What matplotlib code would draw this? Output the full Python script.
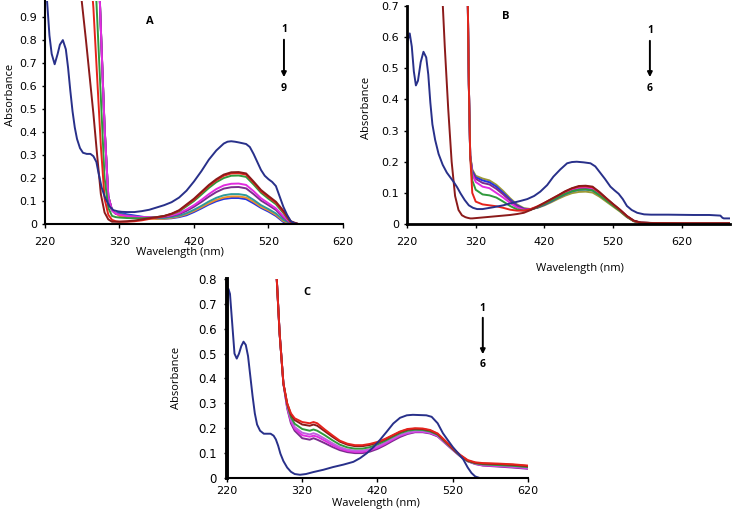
import matplotlib
matplotlib.use('Agg')
import matplotlib.pyplot as plt

# ---------------- panel A ----------------
a_navy_wl = [220, 223, 226, 229, 233, 237, 240, 244, 248, 251, 254, 257, 260, 263, 267, 271, 276, 281, 285, 289,
             292, 296, 300, 303, 307, 312, 318, 323, 330, 340, 350, 360, 370, 380, 390, 400, 410, 420, 430, 440,
             450, 460, 465, 470, 475, 480, 490, 495, 500, 505, 510, 515, 520, 525, 530, 535, 540, 545, 550, 555, 560]
a_navy = [1.1, 0.96, 0.82, 0.74, 0.695, 0.74, 0.78, 0.8, 0.76, 0.68, 0.58, 0.49, 0.42, 0.37, 0.33, 0.31, 0.305, 0.305, 0.295, 0.27,
          0.22, 0.16, 0.12, 0.1, 0.075, 0.06, 0.055, 0.053, 0.052, 0.052, 0.056, 0.062, 0.072, 0.082, 0.095, 0.115, 0.145, 0.185, 0.23, 0.28,
          0.32, 0.35, 0.358, 0.36, 0.358, 0.355, 0.348, 0.335, 0.305, 0.27, 0.235, 0.21, 0.195, 0.183, 0.165, 0.12, 0.075, 0.04, 0.012, 0.003, 0.0]

a_wl = [265, 270, 275, 280, 285, 290, 295, 300, 305, 310, 315, 320, 330, 340, 350, 360, 370, 380, 390, 400,
        410, 420, 430, 440, 450, 460, 470, 480, 490, 500, 510, 520, 530, 540, 550, 560]
a_maroon = [1.1, 0.95, 0.8, 0.64, 0.48, 0.3, 0.13, 0.05, 0.02, 0.01, 0.01, 0.01, 0.012, 0.015, 0.02, 0.025, 0.03, 0.035, 0.045, 0.06,
            0.085, 0.11, 0.14, 0.17, 0.195, 0.215, 0.225, 0.226, 0.22, 0.185, 0.148, 0.122, 0.097, 0.058, 0.012, 0.0]
a_red = [1.6, 1.5, 1.3, 1.15, 0.94, 0.64, 0.34, 0.11, 0.04, 0.018, 0.012, 0.01, 0.01, 0.012, 0.016, 0.022, 0.028, 0.034, 0.044, 0.058,
         0.082, 0.106, 0.136, 0.166, 0.19, 0.21, 0.22, 0.221, 0.215, 0.18, 0.143, 0.117, 0.092, 0.053, 0.008, 0.0]
a_green = [1.8, 1.7, 1.6, 1.5, 1.25, 0.9, 0.55, 0.2, 0.07, 0.035, 0.03, 0.028, 0.026, 0.025, 0.025, 0.027, 0.03, 0.035, 0.043, 0.055,
           0.077, 0.1, 0.128, 0.157, 0.182, 0.2, 0.21, 0.211, 0.205, 0.172, 0.136, 0.11, 0.086, 0.048, 0.006, 0.0]
a_magenta = [1.9, 1.85, 1.8, 1.7, 1.55, 1.3, 0.85, 0.42, 0.12, 0.06, 0.045,
             0.04, 0.035, 0.032, 0.03, 0.03, 0.03, 0.033, 0.038, 0.047, 0.063, 0.082, 0.105, 0.13, 0.152, 0.168, 0.175, 0.176, 0.17,
             0.143, 0.112, 0.09, 0.068, 0.034, 0.004, 0.0]
a_purple = [1.9, 1.85, 1.8, 1.7, 1.55, 1.3, 0.85, 0.42, 0.12, 0.06, 0.045,
            0.042, 0.036, 0.032, 0.03, 0.028, 0.028, 0.03, 0.035, 0.043, 0.057, 0.075, 0.096, 0.119, 0.139, 0.154, 0.16, 0.161, 0.155,
            0.13, 0.102, 0.082, 0.061, 0.028, 0.003, 0.0]
a_teal = [1.9, 1.85, 1.8, 1.7, 1.55, 1.3, 0.85, 0.42, 0.12, 0.06, 0.045,
          0.045, 0.038, 0.033, 0.03, 0.027, 0.025, 0.026, 0.03, 0.036, 0.047, 0.062, 0.079, 0.098, 0.114, 0.125, 0.13, 0.13, 0.125,
          0.105, 0.082, 0.065, 0.046, 0.018, 0.002, 0.0]
a_orange = [1.9, 1.85, 1.8, 1.7, 1.55, 1.3, 0.85, 0.42, 0.12, 0.06, 0.045,
            0.035, 0.03, 0.027, 0.025, 0.023, 0.022, 0.023, 0.027, 0.033, 0.043, 0.057, 0.073, 0.09, 0.105, 0.115, 0.12, 0.12, 0.115,
            0.097, 0.075, 0.059, 0.04, 0.013, 0.001, 0.0]
a_blue = [1.9, 1.85, 1.8, 1.7, 1.55, 1.3, 0.85, 0.42, 0.12, 0.06, 0.045,
          0.05, 0.042, 0.037, 0.032, 0.027, 0.024, 0.023, 0.025, 0.03, 0.038, 0.052, 0.068, 0.085, 0.099, 0.109, 0.113, 0.113, 0.108,
          0.09, 0.07, 0.054, 0.035, 0.009, 0.0, 0.0]

# ---------------- panel B ----------------
b_navy_wl = [218, 221, 224, 227, 230, 233, 236, 240, 244, 248, 251, 254, 257, 261, 266, 272, 278, 283, 288, 293,
             298, 304, 310, 316, 322, 330, 346, 360, 370, 385, 395, 405, 414, 424, 433, 443, 453, 460, 467, 477,
             487, 494, 501, 508, 516, 522, 528, 534, 540, 547, 555, 565, 575, 600, 637, 660, 676, 679, 681, 690]
b_navy = [0.54, 0.59, 0.612, 0.57, 0.49, 0.445, 0.46, 0.52, 0.553, 0.535, 0.48, 0.39, 0.32, 0.27, 0.225, 0.19, 0.165, 0.15, 0.135, 0.118,
          0.098, 0.077, 0.06, 0.052, 0.048, 0.048, 0.054, 0.06, 0.066, 0.074, 0.08, 0.09, 0.104, 0.125, 0.152, 0.175, 0.195, 0.199, 0.2, 0.198,
          0.195, 0.185, 0.165, 0.145, 0.12, 0.108, 0.097, 0.08, 0.058, 0.045, 0.036, 0.031, 0.03, 0.03, 0.029, 0.029, 0.027, 0.02, 0.018, 0.018]

b_wl = [265, 270, 275, 280, 285, 290, 295, 300, 305, 308, 310, 312, 315, 320, 330, 340, 350, 360, 370, 380,
        390, 400, 410, 420, 430, 440, 450, 460, 470, 480, 490, 500, 510, 520, 530, 540, 550, 560, 580, 620, 690]
b_maroon = [0.95, 0.8, 0.57, 0.37, 0.2, 0.09, 0.045, 0.028, 0.022, 0.02, 0.019, 0.018, 0.018, 0.019, 0.021, 0.023, 0.025, 0.027, 0.029, 0.032,
            0.036, 0.045, 0.056, 0.068, 0.08, 0.092, 0.105, 0.115, 0.122, 0.123, 0.12, 0.103, 0.083, 0.064, 0.046, 0.026, 0.011, 0.005, 0.003, 0.002, 0.002]
b_red = [2.0, 2.0, 2.0, 2.0, 2.0, 2.0, 2.0, 2.0, 1.5, 0.8, 0.45, 0.22,
         0.1, 0.072, 0.063, 0.06, 0.057, 0.052, 0.046, 0.043, 0.043, 0.048, 0.057, 0.068, 0.08, 0.092, 0.104, 0.114, 0.12, 0.121,
         0.118, 0.101, 0.082, 0.063, 0.045, 0.025, 0.01, 0.004, 0.003, 0.002, 0.002]
b_green = [2.0, 2.0, 2.0, 2.0, 2.0, 2.0, 2.0, 2.0, 1.5, 0.8, 0.45, 0.22,
           0.14, 0.11, 0.095, 0.092, 0.085, 0.072, 0.058, 0.047, 0.043, 0.046, 0.054, 0.064, 0.075, 0.086, 0.097, 0.105, 0.11, 0.111,
           0.108, 0.093, 0.076, 0.059, 0.042, 0.023, 0.009, 0.004, 0.003, 0.002, 0.002]
b_magenta = [2.0, 2.0, 2.0, 2.0, 2.0, 2.0, 2.0, 2.0, 1.5, 0.8, 0.45, 0.22,
             0.16, 0.135, 0.12, 0.115, 0.1, 0.085, 0.068, 0.053, 0.046, 0.047, 0.055, 0.066, 0.078, 0.09, 0.102, 0.112, 0.117, 0.118,
             0.115, 0.1, 0.081, 0.063, 0.045, 0.025, 0.01, 0.004, 0.003, 0.002, 0.002]
b_purple = [2.0, 2.0, 2.0, 2.0, 2.0, 2.0, 2.0, 2.0, 1.5, 0.8, 0.45, 0.22,
            0.165, 0.145, 0.132, 0.127, 0.113, 0.095, 0.075, 0.058, 0.048, 0.047, 0.054, 0.064, 0.076, 0.088, 0.1, 0.109, 0.114, 0.115,
            0.112, 0.097, 0.079, 0.061, 0.044, 0.024, 0.01, 0.004, 0.003, 0.002, 0.002]
b_blue = [2.0, 2.0, 2.0, 2.0, 2.0, 2.0, 2.0, 2.0, 1.5, 0.8, 0.45, 0.22,
          0.17, 0.15, 0.14, 0.134, 0.12, 0.1, 0.079, 0.06, 0.049, 0.047, 0.053, 0.062, 0.073, 0.085, 0.096, 0.105, 0.11, 0.111,
          0.108, 0.094, 0.077, 0.06, 0.043, 0.024, 0.01, 0.004, 0.003, 0.002, 0.002]
b_olive = [2.0, 2.0, 2.0, 2.0, 2.0, 2.0, 2.0, 2.0, 1.5, 0.8, 0.45, 0.22,
           0.175, 0.155, 0.146, 0.14, 0.126, 0.106, 0.083, 0.063, 0.051, 0.048, 0.052, 0.06, 0.07, 0.081, 0.091, 0.099, 0.103, 0.104,
           0.101, 0.088, 0.072, 0.056, 0.04, 0.022, 0.009, 0.004, 0.003, 0.002, 0.002]

# ---------------- panel C ----------------
c_navy_wl = [220, 222, 224, 227, 230, 233, 236, 239, 242, 245, 248, 251, 254, 257, 260, 264, 269, 274, 278, 282,
             285, 288, 291, 295, 300, 305, 310, 317, 325, 335, 348, 361, 375, 388, 397, 406, 415, 423, 432, 441,
             450, 459, 467, 476, 485, 492, 500, 507, 514, 520, 527, 534, 540, 545, 550, 556, 560]
c_navy = [0.70, 0.76, 0.74, 0.62, 0.5, 0.48, 0.5, 0.53, 0.548, 0.535, 0.49, 0.41, 0.33, 0.26, 0.215, 0.19, 0.178, 0.178, 0.178, 0.17,
          0.155, 0.13, 0.098, 0.068, 0.042, 0.025, 0.016, 0.013, 0.016, 0.024, 0.033, 0.044, 0.054, 0.065, 0.08, 0.1, 0.125, 0.152, 0.185, 0.219,
          0.242, 0.252, 0.254, 0.253, 0.252, 0.246, 0.22, 0.18, 0.15, 0.125, 0.1, 0.075, 0.042, 0.02, 0.006, 0.0, 0.0]

c_wl = [286, 290, 295, 300, 305, 310, 320, 330, 335, 340, 350, 360, 370, 380, 390, 400, 410, 420, 430, 440,
        450, 460, 470, 480, 490, 500, 510, 520, 530, 540, 550, 560, 580, 600, 620]
c_red = [0.81, 0.58, 0.38, 0.30, 0.26, 0.24, 0.225, 0.22, 0.225, 0.22, 0.195, 0.172, 0.15, 0.138, 0.132, 0.132, 0.137, 0.145, 0.157, 0.172,
         0.187, 0.197, 0.2, 0.199, 0.193, 0.179, 0.15, 0.12, 0.093, 0.072, 0.063, 0.06, 0.058, 0.055, 0.05]
c_maroon = [0.81, 0.58, 0.38, 0.3, 0.255, 0.233, 0.215, 0.21, 0.215, 0.21, 0.188, 0.166, 0.146, 0.134, 0.128, 0.128, 0.133, 0.142, 0.155, 0.17,
            0.185, 0.195, 0.198, 0.197, 0.191, 0.177, 0.148, 0.118, 0.091, 0.07, 0.061, 0.058, 0.056, 0.053, 0.048]
c_green = [0.81, 0.58, 0.38, 0.295, 0.245, 0.218, 0.197, 0.19, 0.195, 0.19, 0.172, 0.152, 0.134, 0.123, 0.118, 0.118, 0.124, 0.135, 0.149, 0.165,
           0.18, 0.19, 0.194, 0.193, 0.187, 0.174, 0.145, 0.116, 0.089, 0.068, 0.059, 0.055, 0.052, 0.049, 0.044]
c_violet = [0.81, 0.58, 0.38, 0.29, 0.235, 0.205, 0.182, 0.175, 0.18, 0.175, 0.158, 0.14, 0.124, 0.114, 0.11, 0.11, 0.116, 0.127, 0.142, 0.158,
            0.173, 0.183, 0.188, 0.188, 0.183, 0.171, 0.143, 0.115, 0.089, 0.068, 0.058, 0.053, 0.05, 0.046, 0.041]
c_magenta = [0.81, 0.58, 0.38, 0.285, 0.228, 0.198, 0.172, 0.166, 0.17, 0.166, 0.15, 0.133, 0.118, 0.109, 0.105, 0.105, 0.111, 0.122, 0.137, 0.154,
             0.17, 0.18, 0.186, 0.186, 0.181, 0.169, 0.141, 0.114, 0.088, 0.068, 0.057, 0.051, 0.048, 0.044, 0.039]
c_purple = [0.81, 0.58, 0.38, 0.28, 0.22, 0.19, 0.16, 0.154, 0.16, 0.154, 0.14, 0.125, 0.112, 0.104, 0.1, 0.1, 0.106, 0.117, 0.132, 0.149,
            0.165, 0.177, 0.184, 0.184, 0.179, 0.167, 0.14, 0.113, 0.087, 0.067, 0.056, 0.05, 0.046, 0.042, 0.037]

x_ticks = [220, 320, 420, 520, 620]

NAVY = '#28308a'
MAROON = '#8b1a1a'
RED = '#e5231c'
GREEN = '#2f9a3c'
MAGENTA = '#e22be0'
VIOLET = '#c060e0'
PURPLE = '#7b2d8e'
TEAL = '#2e9a9a'
ORANGE = '#f0902a'
BLUE = '#2434e0'
OLIVE = '#9c9a36'

plt.rcParams['font.family'] = ['DejaVu Sans']
LABEL_FONT = ['Open Sans', 'DejaVu Sans']

fig = plt.figure(figsize=(7.35, 5.09), dpi=100)


def style_axes(ax, ymax, ystep_labels, xmax, lw_left, lw_bottom, tick_pad, ypad):
    ax.set_xlim(220, xmax)
    ax.set_ylim(0, ymax)
    ax.set_xticks(x_ticks)
    ax.set_xticklabels([str(t) for t in x_ticks])
    ax.set_yticks([i / 10 for i in range(len(ystep_labels))])
    ax.set_yticklabels(ystep_labels)
    for s in ['top', 'right']:
        ax.spines[s].set_visible(False)
    ax.spines['left'].set_linewidth(lw_left)
    ax.spines['bottom'].set_linewidth(lw_bottom)
    ax.tick_params(axis='x', direction='out', length=3, width=1, pad=tick_pad, labelsize=8)
    ax.tick_params(axis='y', direction='out', length=2.5, width=1, pad=ypad, labelsize=8)
    ax.patch.set_alpha(0)


def add_arrow(ax, x, y_top, y_bot, top_txt, bot_txt):
    ax.text(x, y_top + 0.035, top_txt, transform=ax.transAxes, ha='center', va='center',
            fontsize=7.5, fontweight='bold', family=LABEL_FONT)
    ax.annotate('', xy=(x, y_bot), xytext=(x, y_top), xycoords='axes fraction',
                arrowprops=dict(arrowstyle='-|>', lw=1.4, color='black', mutation_scale=7))
    ax.text(x, y_bot - 0.04, bot_txt, transform=ax.transAxes, ha='center', va='center',
            fontsize=7.5, fontweight='bold', family=LABEL_FONT)


LW = 1.4

# ---- A ----
axA = fig.add_axes([0.0612, 0.5599, 0.4054, 0.4381])
for ys, c in [(a_blue, BLUE), (a_orange, ORANGE), (a_teal, TEAL), (a_purple, PURPLE), (a_magenta, MAGENTA),
              (a_green, GREEN), (a_red, RED), (a_maroon, MAROON)]:
    axA.plot(a_wl, ys, color=c, lw=LW)
axA.plot(a_navy_wl, a_navy, color=NAVY, lw=LW)
style_axes(axA, 0.97, ['0', '0.1', '0.2', '0.3', '0.4', '0.5', '0.6', '0.7', '0.8', '0.9'], 620, 1.5, 1.5, 6, 3)
axA.set_xlabel('Wavelength (nm)', fontsize=8, family=LABEL_FONT)
axA.xaxis.set_label_coords(0.453, -0.126)
axA.xaxis.label.set_va('center')
axA.set_ylabel('Absorbance', fontsize=8, family=LABEL_FONT)
axA.yaxis.set_label_coords(-0.117, 0.578)
axA.yaxis.label.set_va('center')
axA.text(0.352, 0.906, 'A', transform=axA.transAxes, ha='center', va='center',
         fontsize=8, fontweight='bold', family=LABEL_FONT)
add_arrow(axA, 0.802, 0.839, 0.646, '1', '9')

# ---- B ----
axB = fig.add_axes([0.5537, 0.5599, 0.4395, 0.4283])
for ys, c in [(b_olive, OLIVE), (b_blue, BLUE), (b_purple, PURPLE), (b_magenta, MAGENTA), (b_green, GREEN),
              (b_red, RED), (b_maroon, MAROON)]:
    axB.plot(b_wl, ys, color=c, lw=LW)
axB.plot(b_navy_wl, b_navy, color=NAVY, lw=LW)
style_axes(axB, 0.7, ['0', '0.1', '0.2', '0.3', '0.4', '0.5', '0.6', '0.7'], 690, 2.0, 2.0, 6, 3)
axB.set_xlabel('Wavelength (nm)', fontsize=8, family=LABEL_FONT)
axB.xaxis.set_label_coords(0.536, -0.202)
axB.xaxis.label.set_va('center')
axB.set_ylabel('Absorbance', fontsize=8, family=LABEL_FONT)
axB.yaxis.set_label_coords(-0.124, 0.532)
axB.yaxis.label.set_va('center')
axB.text(0.307, 0.954, 'B', transform=axB.transAxes, ha='center', va='center',
         fontsize=8, fontweight='bold', family=LABEL_FONT)
add_arrow(axB, 0.752, 0.853, 0.661, '1', '6')

# ---- C ----
axC = fig.add_axes([0.3088, 0.0609, 0.4095, 0.391])
for ys, c in [(c_purple, PURPLE), (c_magenta, MAGENTA), (c_violet, VIOLET), (c_green, GREEN),
              (c_maroon, MAROON), (c_red, RED)]:
    axC.plot(c_wl, ys, color=c, lw=LW)
axC.plot(c_navy_wl, c_navy, color=NAVY, lw=LW)
style_axes(axC, 0.8, ['0', '0.1', '0.2', '0.3', '0.4', '0.5', '0.6', '0.7', '0.8'], 620, 2.8, 1.5, 2.5, 5)
axC.tick_params(axis='y', labelsize=8.5)
axC.set_xlabel('Wavelength (nm)', fontsize=8, family=LABEL_FONT)
axC.xaxis.set_label_coords(0.495, -0.128)
axC.xaxis.label.set_va('center')
axC.set_ylabel('Absorbance', fontsize=8, family=LABEL_FONT)
axC.yaxis.set_label_coords(-0.169, 0.503)
axC.yaxis.label.set_va('center')
axC.text(0.266, 0.93, 'C', transform=axC.transAxes, ha='center', va='center',
         fontsize=8, fontweight='bold', family=LABEL_FONT)
add_arrow(axC, 0.850, 0.819, 0.608, '1', '6')

fig.savefig('out.png', dpi=100)
